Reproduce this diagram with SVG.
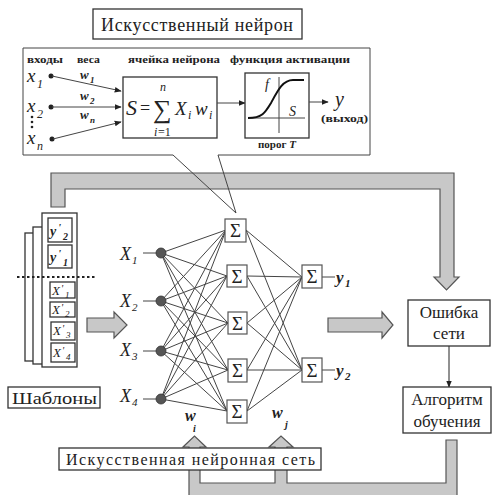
<svg xmlns="http://www.w3.org/2000/svg" width="492" height="495" viewBox="0 0 492 495" font-family="'Liberation Serif','DejaVu Serif',serif">
<defs>
<style>
.s{font-family:'Liberation Serif','DejaVu Serif','Times New Roman',serif;fill:#222}
.b{font-weight:bold}
.i{font-style:italic}
.box{fill:#fff;stroke:#333;stroke-width:1.3}
.ln{stroke:#444;stroke-width:1;fill:none}
.pipe{fill:#c8c8c8;stroke:#555;stroke-width:1.2;stroke-linejoin:miter}
.sig{fill:#fff;stroke:#555;stroke-width:1.2}
.dot{fill:#555;stroke:#333;stroke-width:0.8}
</style>
<marker id="ah" viewBox="0 0 10 10" refX="9" refY="5" markerWidth="7" markerHeight="7" orient="auto" markerUnits="userSpaceOnUse">
<path d="M0,1 L10,5 L0,9 Z" fill="#222"/>
</marker>
</defs>
<rect width="492" height="495" fill="#fff"/>

<g id="pipes">
<path class="pipe" d="M51,207 V173 H454 V277 H459 L446.5,290 L434,277 H440 V189 H65 V207 Z"/>
<path class="pipe" d="M189,500 V447 H183 L194.5,436 L206,447 H200 V483 H275 V447 H269 L281,436 L293,447 H287 V483 H446 V440 H457 V500 Z"/>
<path class="pipe" d="M87,318 H114 V312 L127,325 L114,338 V332 H87 Z"/>
<path class="pipe" d="M328,318 H382 V312 L393,325 L382,338 V332 H328 Z"/>
</g>

<g id="title">
<rect class="box" x="93" y="9" width="209" height="30"/>
<text class="s" x="101" y="31" font-size="18" textLength="192" lengthAdjust="spacing">Искусственный    нейрон</text>
</g>

<g id="neuron-callout">
<path class="ln" d="M173,155 H23 V48 H370 V155 H218 L236,213 L173,155" stroke="#333" stroke-width="1.3"/>
<text class="s b" x="27" y="63" font-size="11" textLength="36" lengthAdjust="spacingAndGlyphs">входы</text>
<text class="s b" x="77" y="63" font-size="11" textLength="23" lengthAdjust="spacingAndGlyphs">веса</text>
<text class="s b" x="128" y="63" font-size="11" textLength="92" lengthAdjust="spacingAndGlyphs">ячейка нейрона</text>
<text class="s b" x="230" y="63" font-size="11" textLength="120" lengthAdjust="spacingAndGlyphs">функция активации</text>

<text class="s i" x="27" y="82" font-size="19">x</text><text class="s i" x="37" y="88" font-size="12">1</text>
<text class="s i" x="27" y="112" font-size="19">x</text><text class="s i" x="37" y="118" font-size="12">2</text>
<text class="s i" x="27" y="144" font-size="19">x</text><text class="s i" x="37" y="150" font-size="12">n</text>
<g fill="#222"><circle cx="32" cy="117" r="1.3"/><circle cx="32" cy="122" r="1.3"/><circle cx="32" cy="127" r="1.3"/></g>
<circle cx="51" cy="76" r="2.5" fill="#222"/>
<circle cx="51" cy="107" r="2.5" fill="#222"/>
<circle cx="52" cy="139" r="2.5" fill="#222"/>
<line class="ln" x1="52" y1="76" x2="121" y2="91" stroke="#222" marker-end="url(#ah)"/>
<line class="ln" x1="52" y1="107" x2="121" y2="107" stroke="#222" marker-end="url(#ah)"/>
<line class="ln" x1="53" y1="139" x2="121" y2="122" stroke="#222" marker-end="url(#ah)"/>
<text class="s b i" x="80" y="79" font-size="13">w</text><text class="s b i" x="90" y="83" font-size="9">1</text>
<text class="s b i" x="80" y="100" font-size="13">w</text><text class="s b i" x="90" y="104" font-size="9">2</text>
<text class="s b i" x="80" y="119" font-size="13">w</text><text class="s b i" x="90" y="123" font-size="9">n</text>

<rect class="box" x="123" y="77" width="94" height="61"/>
<text class="s i" x="126" y="115" font-size="22">S</text>
<text class="s" x="140" y="114" font-size="18">=</text>
<text class="s" x="153" y="118" font-size="26">∑</text>
<text class="s i" x="160" y="91" font-size="12">n</text>
<text class="s i" x="154" y="136" font-size="12">i</text><text class="s" x="158" y="136" font-size="12">=1</text>
<text class="s i" x="175" y="115" font-size="19">X</text><text class="s i" x="188" y="119" font-size="12">i</text>
<text class="s i" x="195" y="115" font-size="19">w</text><text class="s i" x="209" y="119" font-size="12">i</text>

<line class="ln" x1="217" y1="103" x2="245" y2="103" stroke="#222" marker-end="url(#ah)"/>
<rect class="box" x="245" y="73" width="64" height="65"/>
<line class="ln" x1="279" y1="77" x2="279" y2="133" stroke="#333"/>
<line class="ln" x1="248" y1="118" x2="305" y2="118" stroke="#333"/>
<path d="M248,118 C262,118 265,113 271,103 C278,90 283,80 293,80 L304,80" fill="none" stroke="#111" stroke-width="2"/>
<text class="s i" x="265" y="89" font-size="14">f</text>
<text class="s i" x="289" y="116" font-size="14">S</text>
<line class="ln" x1="309" y1="102" x2="328" y2="102" stroke="#222" marker-end="url(#ah)"/>
<text class="s i" x="335" y="106" font-size="20">y</text>
<text class="s b" x="321" y="122" font-size="11" textLength="47" lengthAdjust="spacingAndGlyphs">(выход)</text>
<text class="s b" x="258" y="148" font-size="11">порог <tspan class="i">T</tspan></text>
</g>

<g id="templates">
<rect class="box" x="25" y="233" width="20" height="128"/>
<rect class="box" x="33" y="227" width="20" height="137"/>
<rect class="box" x="42" y="213" width="35" height="154"/>
<rect class="box" x="48" y="218" width="24" height="24"/>
<rect class="box" x="48" y="245" width="24" height="23"/>
<rect class="box" x="50" y="282" width="25" height="16"/>
<rect class="box" x="50" y="302" width="25" height="15"/>
<rect class="box" x="51" y="322" width="24" height="18"/>
<rect class="box" x="51" y="343" width="24" height="19"/>
<text class="s b i" x="50" y="236" font-size="14">y</text><text class="s b i" x="58" y="231" font-size="11">'</text><text class="s b i" x="63" y="240" font-size="10">2</text>
<text class="s b i" x="50" y="262" font-size="14">y</text><text class="s b i" x="58" y="257" font-size="11">'</text><text class="s b i" x="63" y="266" font-size="10">1</text>
<text class="s i" x="52" y="295" font-size="13">X</text><text class="s i" x="61" y="292" font-size="10">'</text><text class="s i" x="65" y="298" font-size="9">1</text>
<text class="s i" x="52" y="314" font-size="13">X</text><text class="s i" x="61" y="311" font-size="10">'</text><text class="s i" x="65" y="317" font-size="9">2</text>
<text class="s i" x="53" y="335" font-size="13">X</text><text class="s i" x="62" y="332" font-size="10">'</text><text class="s i" x="66" y="338" font-size="9">3</text>
<text class="s i" x="53" y="357" font-size="13">X</text><text class="s i" x="62" y="354" font-size="10">'</text><text class="s i" x="66" y="360" font-size="9">4</text>
<line x1="17" y1="277" x2="95" y2="277" stroke="#222" stroke-width="2" stroke-dasharray="2.5,2.5"/>
</g>

<g id="templates-label">
<rect class="box" x="8" y="387" width="92" height="21"/>
<text class="s" x="12" y="404" font-size="17" textLength="85" lengthAdjust="spacingAndGlyphs">Шаблоны</text>
</g>

<g id="connectors" class="ln">
<line x1="143" y1="253" x2="161" y2="253"/><line x1="143" y1="301" x2="161" y2="301"/>
<line x1="143" y1="351" x2="161" y2="351"/><line x1="143" y1="399" x2="161" y2="399"/>
<path d="M161,253 L226,230 M161,253 L227,276 M161,253 L228,323 M161,253 L228,370 M161,253 L227,411
M161,301 L226,230 M161,301 L227,276 M161,301 L228,323 M161,301 L228,370 M161,301 L227,411
M161,351 L226,230 M161,351 L227,276 M161,351 L228,323 M161,351 L228,370 M161,351 L227,411
M161,399 L226,230 M161,399 L227,276 M161,399 L228,323 M161,399 L228,370 M161,399 L227,411"/>
<path d="M246,230 L302,277 M246,230 L302,370 M247,276 L302,277 M247,276 L302,370 M247,323 L302,277 M247,323 L302,370 M247,370 L302,277 M247,370 L302,370 M247,411 L302,277 M247,411 L302,370"/>
<line x1="322" y1="277" x2="335" y2="277"/><line x1="322" y1="370" x2="335" y2="370"/>
<line x1="449" y1="346" x2="449" y2="387" stroke="#222" marker-end="url(#ah)"/>
</g>

<g id="inputs">
<circle class="dot" cx="161" cy="253" r="5"/><circle class="dot" cx="161" cy="301" r="5"/>
<circle class="dot" cx="161" cy="351" r="5"/><circle class="dot" cx="161" cy="399" r="5"/>
<text class="s i" x="120" y="260" font-size="18">X</text><text class="s i" x="132" y="264" font-size="11">1</text>
<text class="s i" x="120" y="307" font-size="18">X</text><text class="s i" x="132" y="311" font-size="11">2</text>
<text class="s i" x="120" y="356" font-size="18">X</text><text class="s i" x="132" y="360" font-size="11">3</text>
<text class="s i" x="120" y="402" font-size="18">X</text><text class="s i" x="132" y="406" font-size="11">4</text>
</g>

<g id="hidden">
<rect class="sig" x="225" y="219" width="21" height="23"/><text class="s" x="235.5" y="237" font-size="19" text-anchor="middle">Σ</text>
<rect class="sig" x="227" y="265" width="20" height="22"/><text class="s" x="237" y="283" font-size="19" text-anchor="middle">Σ</text>
<rect class="sig" x="228" y="312" width="19" height="22"/><text class="s" x="237.5" y="330" font-size="19" text-anchor="middle">Σ</text>
<rect class="sig" x="228" y="359" width="19" height="23"/><text class="s" x="237.5" y="377" font-size="19" text-anchor="middle">Σ</text>
<rect class="sig" x="227" y="400" width="20" height="23"/><text class="s" x="237" y="418" font-size="19" text-anchor="middle">Σ</text>
</g>

<g id="outputs">
<rect class="sig" x="302" y="265" width="20" height="23"/><text class="s" x="312" y="283" font-size="19" text-anchor="middle">Σ</text>
<rect class="sig" x="302" y="358" width="20" height="24"/><text class="s" x="312" y="377" font-size="19" text-anchor="middle">Σ</text>
<text class="s b i" x="336" y="283" font-size="17">y</text><text class="s b i" x="345" y="287" font-size="11">1</text>
<text class="s b i" x="336" y="376" font-size="17">y</text><text class="s b i" x="345" y="380" font-size="11">2</text>
</g>

<g id="weights">
<text class="s b i" x="185" y="421" font-size="16">w</text><text class="s b i" x="193" y="432" font-size="10">i</text>
<text class="s b i" x="272" y="418" font-size="16">w</text><text class="s b i" x="285" y="428" font-size="10">j</text>
</g>

<g id="error">
<rect class="box" x="408" y="300" width="82" height="46"/>
<text class="s" x="449" y="318" font-size="17" text-anchor="middle">Ошибка</text>
<text class="s" x="449" y="339" font-size="17" text-anchor="middle">сети</text>
</g>

<g id="learning">
<rect class="box" x="403" y="387" width="88" height="46"/>
<text class="s" x="447" y="405" font-size="17" text-anchor="middle">Алгоритм</text>
<text class="s" x="447" y="427" font-size="17" text-anchor="middle">обучения</text>
</g>

<g id="network-label">
<rect class="box" x="59" y="448" width="262" height="22"/>
<text class="s" x="66" y="465" font-size="16" textLength="249" lengthAdjust="spacing">Искусственная  нейронная  сеть</text>
</g>
</svg>
